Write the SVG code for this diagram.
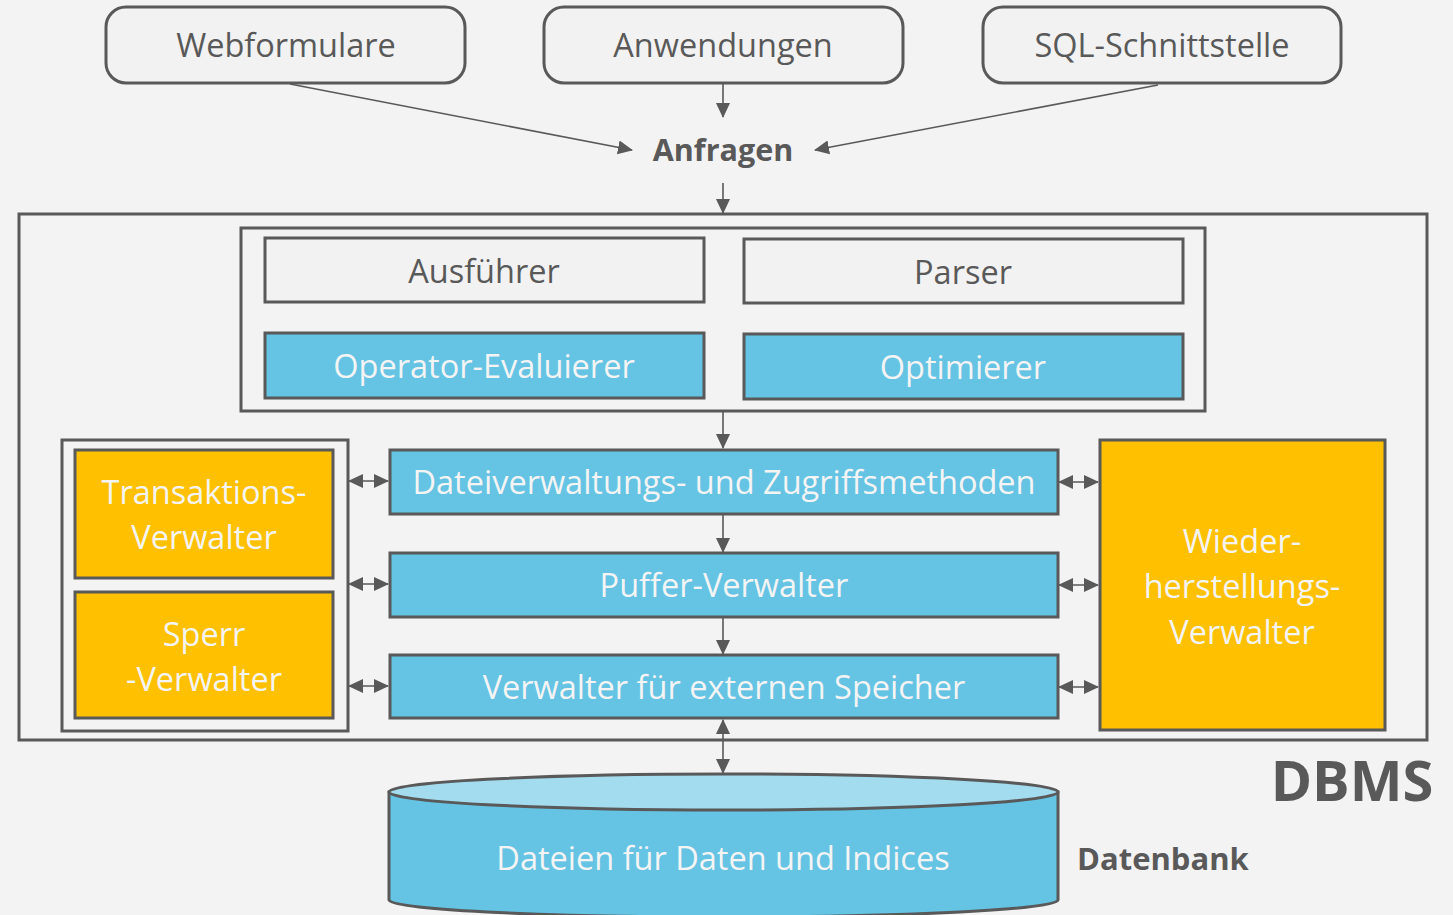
<svg xmlns="http://www.w3.org/2000/svg" width="1453" height="915" viewBox="0 0 1453 915">
<defs>
<style>
.box{stroke:#595959;stroke-width:3}
.white{fill:#f2f2f2}
.blue{fill:#65c3e3}
.orange{fill:#ffc000}
.t{font-family:"Open Sans","Liberation Sans",sans-serif;font-size:32.5px;text-anchor:middle}
.dk{fill:#595959}
.lt{fill:#f4f4f4}
.b{font-weight:bold}
.con{stroke:#595959;stroke-width:1.6;fill:none}
</style>
<marker id="ah" markerWidth="16" markerHeight="16" refX="14" refY="8" orient="auto-start-reverse" markerUnits="userSpaceOnUse">
<path d="M0,1 L15,8 L0,15 Z" fill="#595959"/>
</marker>
</defs>
<rect width="1453" height="915" fill="#f3f3f3"/>

<g id="webformulare"><rect class="box white" x="106" y="7" width="359" height="76" rx="20"/><text class="t dk" x="286" y="57">Webformulare</text></g>
<g id="anwendungen"><rect class="box white" x="544" y="7" width="359" height="76" rx="20"/><text class="t dk" x="723" y="57">Anwendungen</text></g>
<g id="sql"><rect class="box white" x="983" y="7" width="358" height="76" rx="20"/><text class="t dk" x="1162" y="57">SQL-Schnittstelle</text></g>
<g id="anfragen"><text class="t dk b" x="723" y="161" style="font-size:30.5px">Anfragen</text></g>

<g id="dbms"><rect class="box" fill="none" x="19" y="214" width="1408" height="526"/><text class="t dk b" x="1352" y="801" style="font-size:56px">DBMS</text></g>
<g id="query-group"><rect class="box" fill="none" x="241" y="228" width="964" height="183"/></g>
<g id="ausfuehrer"><rect class="box white" x="265" y="238" width="439" height="64"/><text class="t dk" x="484" y="283">Ausführer</text></g>
<g id="parser"><rect class="box white" x="744" y="239" width="439" height="64"/><text class="t dk" x="963" y="284">Parser</text></g>
<g id="operator"><rect class="box blue" x="265" y="333" width="439" height="65"/><text class="t lt" x="484" y="378">Operator-Evaluierer</text></g>
<g id="optimierer"><rect class="box blue" x="744" y="334" width="439" height="65"/><text class="t lt" x="963" y="379">Optimierer</text></g>

<g id="left-group"><rect class="box" fill="none" x="62" y="440" width="286" height="291"/></g>
<g id="transaktion"><rect class="box orange" x="75" y="450" width="258" height="128"/><text class="t lt" x="204" y="504">Transaktions-</text><text class="t lt" x="204" y="549">Verwalter</text></g>
<g id="sperr"><rect class="box orange" x="75" y="592" width="258" height="126"/><text class="t lt" x="204" y="646">Sperr</text><text class="t lt" x="204" y="691">-Verwalter</text></g>

<g id="dateiverwaltung"><rect class="box blue" x="390" y="450" width="668" height="64"/><text class="t lt" x="724" y="494">Dateiverwaltungs- und Zugriffsmethoden</text></g>
<g id="puffer"><rect class="box blue" x="390" y="553" width="668" height="64"/><text class="t lt" x="724" y="597">Puffer-Verwalter</text></g>
<g id="extern"><rect class="box blue" x="390" y="655" width="668" height="63"/><text class="t lt" x="724" y="699">Verwalter für externen Speicher</text></g>

<g id="wiederherstellung"><rect class="box orange" x="1100" y="440" width="285" height="290"/><text class="t lt" x="1242" y="553">Wieder-</text><text class="t lt" x="1242" y="598">herstellungs-</text><text class="t lt" x="1242" y="644">Verwalter</text></g>

<g id="datenbank">
<path class="box blue" d="M389,792 L389,900 A334.5,17 0 0 0 1058,900 L1058,792 Z"/>
<ellipse class="box" fill="#a3dcef" cx="723.5" cy="792" rx="334.5" ry="18"/>
<text class="t lt" x="723" y="870">Dateien für Daten und Indices</text>
<text class="t dk b" x="1077" y="870" style="text-anchor:start;font-size:31px">Datenbank</text>
</g>

<g id="connectors">
<line class="con" x1="290" y1="84" x2="632" y2="150" marker-end="url(#ah)"/>
<line class="con" x1="723" y1="84" x2="723" y2="117" marker-end="url(#ah)"/>
<line class="con" x1="1158" y1="85" x2="815" y2="150" marker-end="url(#ah)"/>
<line class="con" x1="723" y1="183" x2="723" y2="213" marker-end="url(#ah)"/>
<line class="con" x1="723" y1="412" x2="723" y2="448" marker-end="url(#ah)"/>
<line class="con" x1="723" y1="515" x2="723" y2="552" marker-end="url(#ah)"/>
<line class="con" x1="723" y1="618" x2="723" y2="654" marker-end="url(#ah)"/>
<line class="con" x1="723" y1="720" x2="723" y2="773" marker-start="url(#ah)" marker-end="url(#ah)"/>
<line class="con" x1="349" y1="481" x2="388" y2="481" marker-start="url(#ah)" marker-end="url(#ah)"/>
<line class="con" x1="349" y1="584" x2="388" y2="584" marker-start="url(#ah)" marker-end="url(#ah)"/>
<line class="con" x1="349" y1="686" x2="388" y2="686" marker-start="url(#ah)" marker-end="url(#ah)"/>
<line class="con" x1="1059" y1="482" x2="1098" y2="482" marker-start="url(#ah)" marker-end="url(#ah)"/>
<line class="con" x1="1059" y1="585" x2="1098" y2="585" marker-start="url(#ah)" marker-end="url(#ah)"/>
<line class="con" x1="1059" y1="687" x2="1098" y2="687" marker-start="url(#ah)" marker-end="url(#ah)"/>
</g>
</svg>
